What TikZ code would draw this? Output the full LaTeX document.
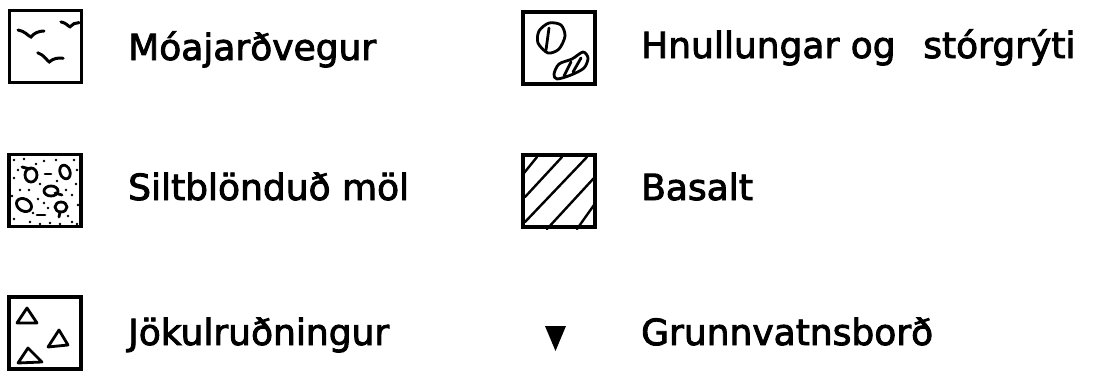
\documentclass[tikz,border=0pt]{standalone}
\usepackage{fontspec}
\setmainfont{DejaVu Sans}
\newfontfamily\legfont[FakeBold=2.5]{DejaVu Sans}
\tikzset{
  legbox/.style={draw,line width=3.2pt,minimum width=72pt,minimum height=72pt,inner sep=0pt},
  legtext/.style={anchor=base west,inner sep=0pt,font=\legfont\fontsize{36}{40}\selectfont},
  stroke/.style={line width=2.8pt,line cap=round,line join=round},
  bird/.pic={\draw[line width=3pt,line cap=round] (-13,-3) .. controls (-6,-2) and (-3,3) .. (0,4) .. controls (3,0) and (8,-2) .. (13,-2);}
}

\begin{document}
\begin{tikzpicture}[x=1pt,y=-1pt]
	\useasboundingbox (0,0) rectangle (1093,372);

	% left column
	\node[legbox] (moabox) at (45.5,46.5) {};
	\pic at (31,33) {bird};
	\pic[scale=0.7] at (70,24) {bird};
	\pic[rotate=-10] at (50,58) {bird};
	\node[legtext] (moa) at (128,60) {Móajarðvegur};

	\node[legbox] (siltbox) at (45,190.5) {};
	\draw[stroke] (31,175) ellipse (6 and 7);
	\draw[stroke] (22,167) -- (30,169);
	\draw[stroke,rotate around={20:(65,172)}] (65,172) ellipse (5 and 7);
	\draw[stroke] (51,191) ellipse (7 and 5);
	\draw[stroke,rotate around={-30:(24,205)}] (24,205) ellipse (8 and 6);
	\draw[stroke] (61,207) ellipse (6 and 5);
	\draw[stroke] (60,212) -- (59,217);
	\draw[stroke] (45,174) -- (51,174);
	\draw[stroke] (37,215) -- (45,215);
	\draw[stroke] (55,193) -- (62,195);
	\foreach \px/\py in {14/160,24/159,44/161,56/160,74/160,14/178,20/190,40/184,76/184,38/199,72/195,44/203,14/219,30/222,50/223,72/222,78/205,36/164,57/181,
		12/196,77/170,66/190,29/190,48/208,18/170,33/213,68/216,40/224,60/224,77/224}
		\fill (\px,\py) circle (1.3);
	\node[legtext] (silt) at (128,200) {Siltblönduð möl};

	\node[legbox] (jokulbox) at (45,333) {};
	\draw[stroke] (17,323) -- (27,308) -- (37,323) -- cycle;
	\draw[stroke] (48,347) -- (59,330) -- (68,345) -- cycle;
	\draw[stroke] (18,363) -- (28,348) -- (42,362) -- cycle;
	\node[legtext] (jokul) at (128,345) {Jökulruðningur};

	% right column
	\node[legbox] (hnullbox) at (559,48) {};
	\draw[stroke] plot[smooth cycle] coordinates {(539,31) (549,23) (561,25) (565,36) (559,49) (548,53) (538,43)};
	\draw[stroke] (549,28) -- (546,50);
	\draw[stroke] plot[smooth cycle] coordinates {(554,74) (559,64) (572,59) (583,52) (588,58) (584,68) (571,75) (557,79)};
	\draw[stroke] (564,76) -- (571,62);
	\draw[stroke] (573,72) -- (581,58);
	\node[legtext] (hnull) at (641,58) {Hnullungar og\hspace{0.45em} stórgrýti};

	\node[legbox] (basaltbox) at (559,191) {};
	\begin{scope}[line width=2.4pt,line cap=round]
		\draw (524,173) -- (537,157);
		\draw (525,197) -- (562,157);
		\draw (525,222) -- (587,157);
		\draw (547,229) -- (594,178);
		\draw (577,229) -- (594,205);
	\end{scope}
	\node[legtext] (basalt) at (641,200) {Basalt};

	\fill (545,326) -- (566,326) -- (555.5,351) -- cycle;
	\node[legtext] (grunn) at (641,345) {Grunnvatnsborð};
\end{tikzpicture}
\end{document}
